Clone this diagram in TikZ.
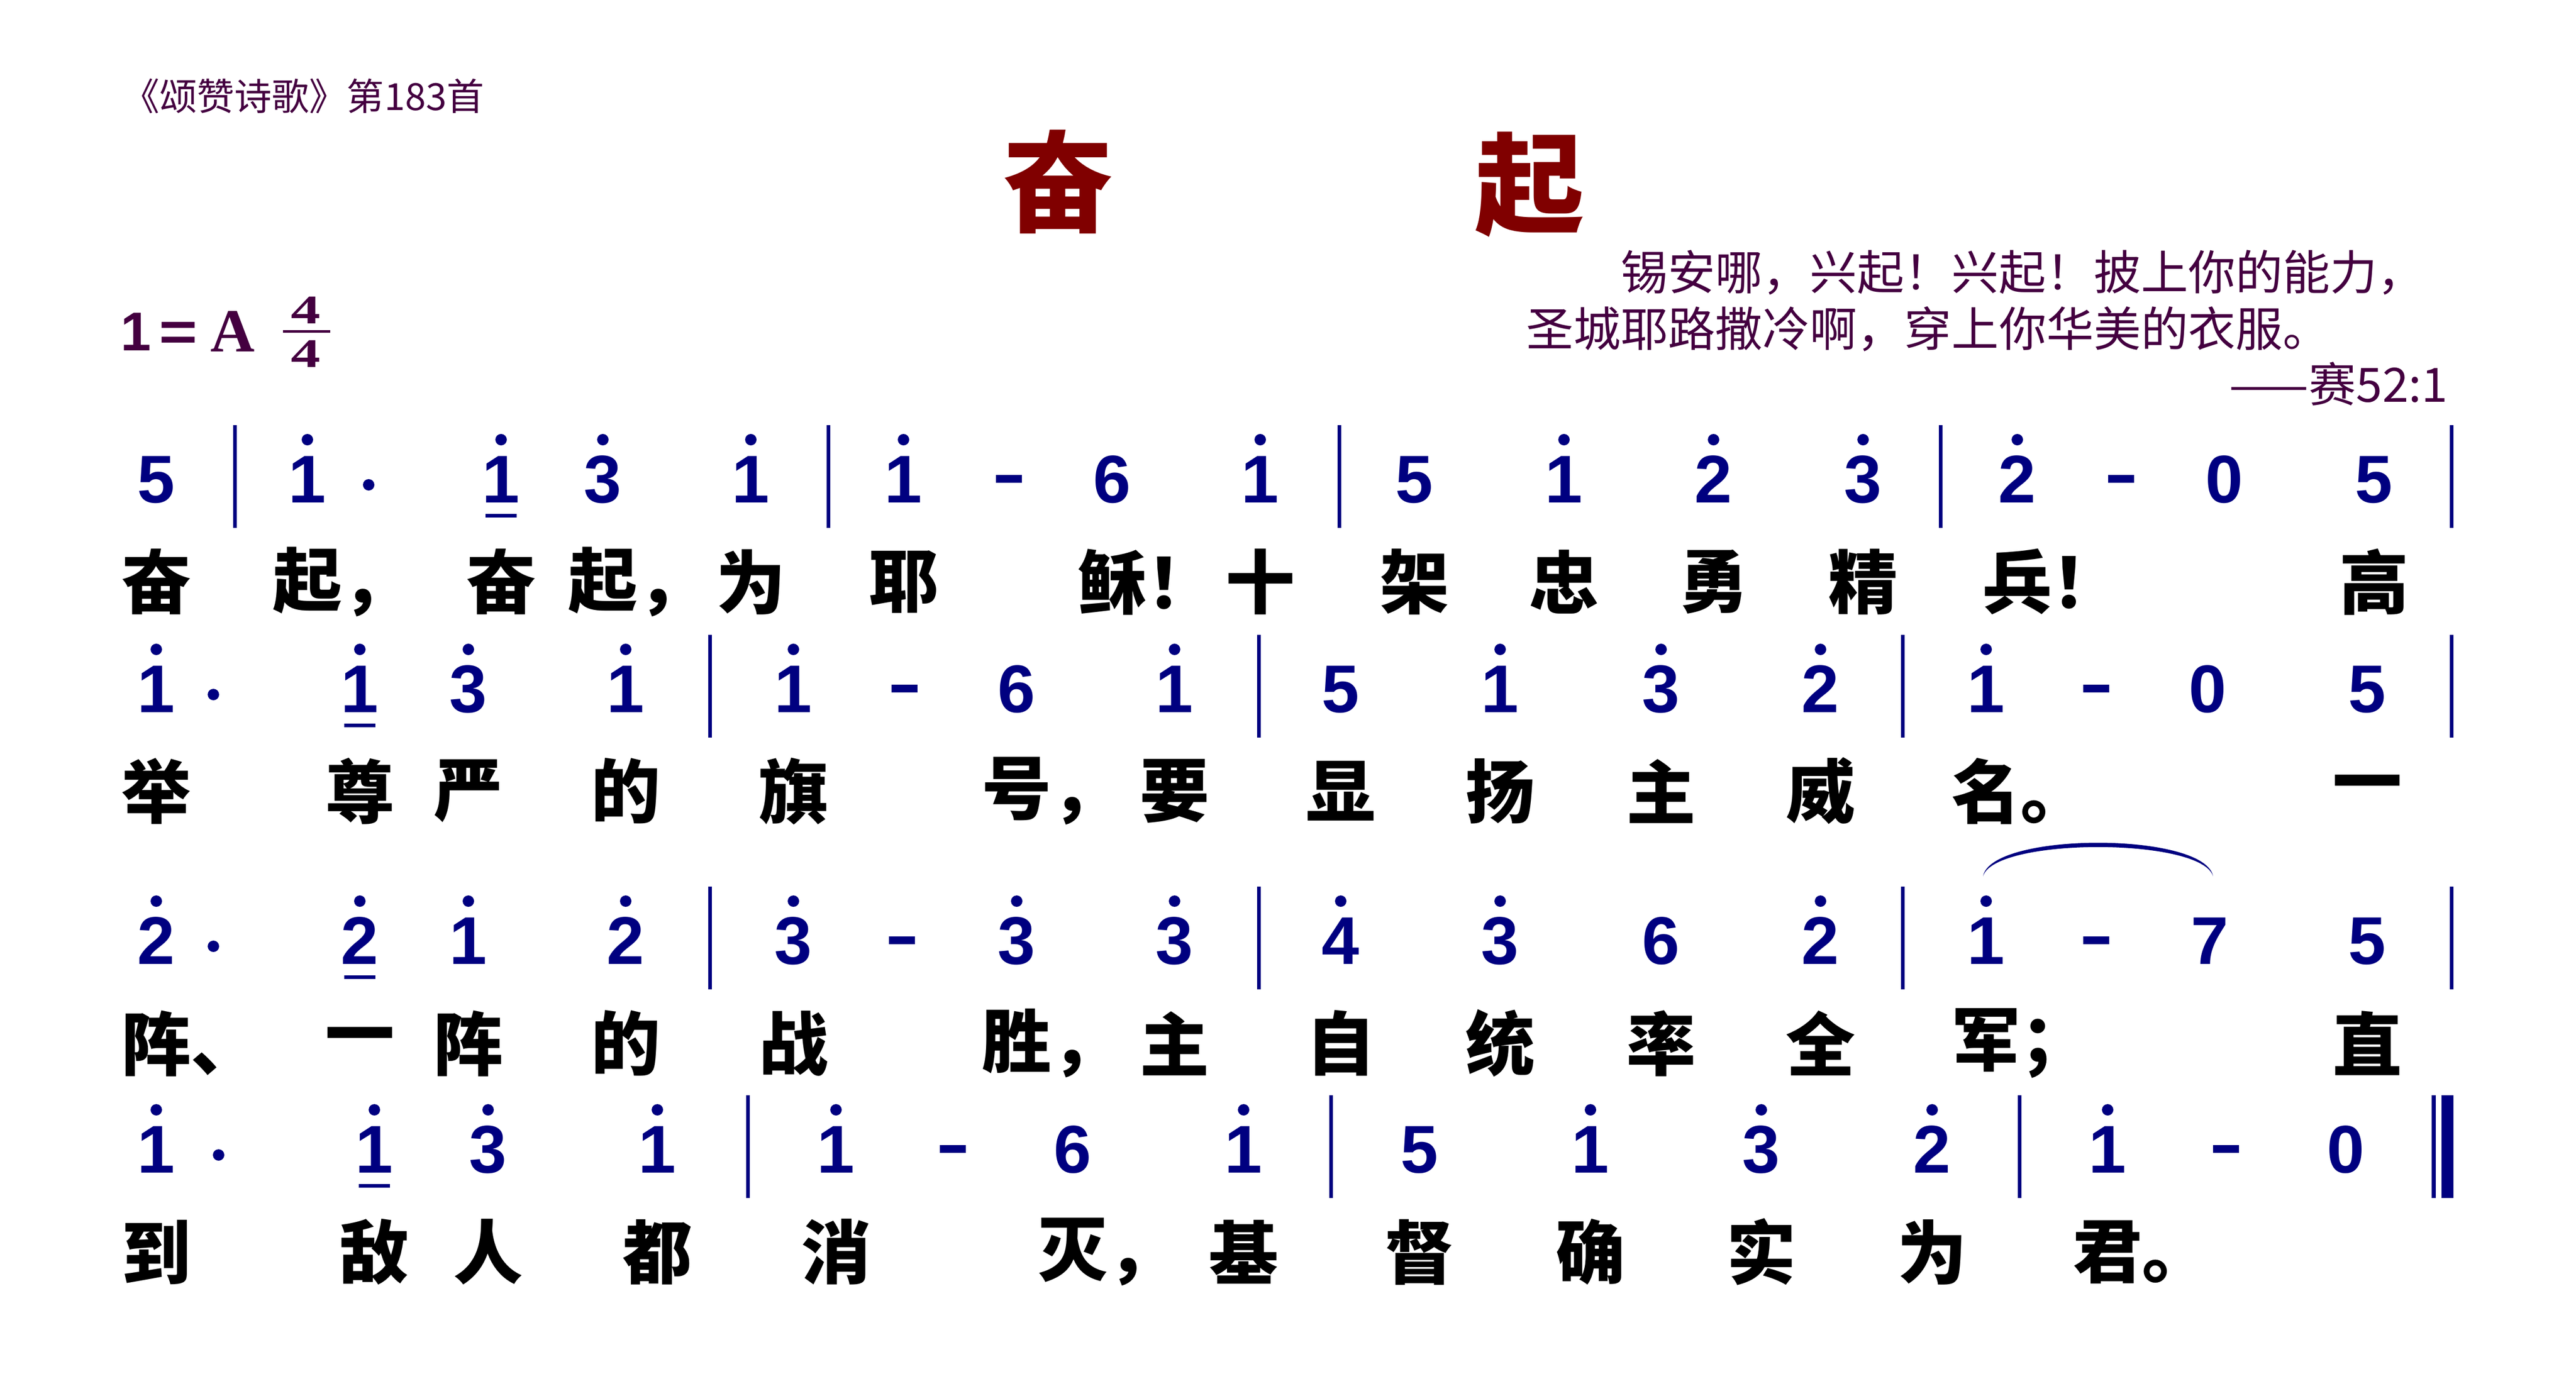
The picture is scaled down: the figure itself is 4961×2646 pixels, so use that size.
\documentclass[tikz,border=0pt]{standalone}
\usepackage{fontspec}
\usepackage{tikz}
\usetikzlibrary{calc}
\newfontfamily\cjk{Noto Sans CJK SC}
\newfontfamily\numfont{Liberation Sans}
\newfontfamily\serfont{Liberation Serif}
\definecolor{navy}{RGB}{0,0,128}
\definecolor{plum}{RGB}{68,0,64}
\definecolor{maroon}{RGB}{128,0,0}

\begin{document}
\begin{tikzpicture}[x=0.1mm,y=-0.1mm,
  note/.style={font=\numfont\bfseries\fontsize{37}{37}\selectfont,text=navy,anchor=base,inner sep=0pt},
  word/.style={font=\cjk\bfseries\fontsize{38}{38}\selectfont,anchor=center,inner sep=0pt},
  bar/.style={navy,line width=0.7mm},
  hi/.style={navy},
  holdmark/.style={navy}]

\useasboundingbox (0,0) rectangle (4961,2646);

% heading
\node [anchor=west,inner sep=0pt,text=plum,font=\cjk\fontsize{20.5}{20.5}\selectfont] (hdr) at (235,185) {《颂赞诗歌》第183首};
\node [inner sep=0pt,text=maroon,font=\cjk\bfseries\fontsize{60}{60}\selectfont] (ttlA) at (2038,350) {奋};
\node [inner sep=0pt,text=maroon,font=\cjk\bfseries\fontsize{60}{60}\selectfont] (ttlB) at (2946,355) {起};
\node [anchor=west,inner sep=0pt,text=plum,font=\cjk\fontsize{25.9}{25.9}\selectfont] (verseA) at (3121,525) {锡安哪，兴起！兴起！披上你的能力，};
\node [anchor=west,inner sep=0pt,text=plum,font=\cjk\fontsize{25.9}{25.9}\selectfont] (verseB) at (2939,634) {圣城耶路撒冷啊，穿上你华美的衣服。};
\node [anchor=east,inner sep=0pt,text=plum,font=\cjk\fontsize{25.9}{25.9}\selectfont] (cite) at (4715,739) {——赛52:1};

% key and time
\node [anchor=base,inner sep=0pt,text=plum,font=\numfont\bfseries\fontsize{30}{30}\selectfont] (key1) at (262,675) {1};
\node [anchor=base,inner sep=0pt,text=plum,font=\numfont\bfseries\fontsize{30}{30}\selectfont] (keyeq) at (343,675) {\scalebox{1.2}[1]{=}};
\node [anchor=base,inner sep=0pt,text=plum,font=\serfont\bfseries\fontsize{33.6}{33.6}\selectfont] (keyA) at (448,677) {A};
\node [anchor=base,inner sep=0pt,text=plum,font=\serfont\bfseries\fontsize{22.3}{22.3}\selectfont] (tsnum) at (589,623) {\scalebox{1.45}[1]{4}};
\node [anchor=base,inner sep=0pt,text=plum,font=\serfont\bfseries\fontsize{22.3}{22.3}\selectfont] (tsden) at (589,707) {\scalebox{1.45}[1]{4}};
\draw [plum,line width=0.5mm] (545,638.5) -- (636,638.5);

% row 1
\foreach \x/\d/\h/\u [count=\i] in {301/5/0/0,592/1/1/0,965/1/1/1,1161/3/1/0,1446/1/1/0,1740/1/1/0,2142/6/0/0,2427/1/1/0,2724/5/0/0,3012/1/1/0,3300/2/1/0,3588/3/1/0,3885/2/1/0,4284/0/0/0,4572/5/0/0}{
  \node [note] (r1n\i) at (\x,968) {\d};
  \ifnum\h=1 \fill [hi] ($(r1n\i.base)+(0,-121)$) circle [radius=1.1mm]; \fi
  \ifnum\u=1 \fill [hi] ($(r1n\i.base)+(-30,22)$) rectangle ($(r1n\i.base)+(30,29)$); \fi
}
\fill [hi] (710,934) circle [radius=1.1mm];
\foreach \x in {1943,4085} \fill [holdmark] (\x-25,914.5) rectangle (\x+25,929.5);
\foreach \x in {452,1595,2579,3737,4721} \draw [bar] (\x,819) -- (\x,1017);
\foreach \x/\w [count=\i] in {301/奋,592/{起\rlap{，}},965/奋,1161/{起\rlap{，}},1446/为,1740/耶,2142/{稣\rlap{！}},2427/十,2724/架,3012/忠,3300/勇,3588/精,3885/{兵\rlap{！}},4572/高}
  \node [word] (r1w\i) at (\x,1121) {\w};

% row 2
\foreach \x/\d/\h/\u [count=\i] in {301/1/1/0,693/1/1/1,902/3/1/0,1205/1/1/0,1528/1/1/0,1958/6/0/0,2262/1/1/0,2582/5/0/0,2889/1/1/0,3199/3/1/0,3506/2/1/0,3825/1/1/0,4252/0/0/0,4559/5/0/0}{
  \node [note] (r2n\i) at (\x,1372) {\d};
  \ifnum\h=1 \fill [hi] ($(r2n\i.base)+(0,-121)$) circle [radius=1.1mm]; \fi
  \ifnum\u=1 \fill [hi] ($(r2n\i.base)+(-30,22)$) rectangle ($(r2n\i.base)+(30,29)$); \fi
}
\fill [hi] (411,1338) circle [radius=1.1mm];
\foreach \x in {1742,4037} \fill [holdmark] (\x-25,1318.5) rectangle (\x+25,1333.5);
\foreach \x in {1367,2424,3664,4721} \draw [bar] (\x,1223) -- (\x,1421);
\foreach \x/\w [count=\i] in {301/举,693/尊,902/严,1205/的,1528/旗,1958/{号\rlap{，}},2262/要,2582/显,2889/扬,3199/主,3506/威,3825/{名\rlap{。}},4559/一}
  \node [word] (r2w\i) at (\x,1524) {\w};

% row 3
\foreach \x/\d/\h/\u [count=\i] in {301/2/1/0,693/2/1/1,902/1/1/0,1205/2/1/0,1528/3/1/0,1958/3/1/0,2262/3/1/0,2582/4/1/0,2889/3/1/0,3199/6/0/0,3506/2/1/0,3825/1/1/0,4256/7/0/0,4559/5/0/0}{
  \node [note] (r3n\i) at (\x,1857) {\d};
  \ifnum\h=1 \fill [hi] ($(r3n\i.base)+(0,-121)$) circle [radius=1.1mm]; \fi
  \ifnum\u=1 \fill [hi] ($(r3n\i.base)+(-30,22)$) rectangle ($(r3n\i.base)+(30,29)$); \fi
}
\fill [hi] (411,1823) circle [radius=1.1mm];
\foreach \x in {1737,4037} \fill [holdmark] (\x-25,1803.5) rectangle (\x+25,1818.5);
\foreach \x in {1367,2424,3664,4721} \draw [bar] (\x,1708) -- (\x,1906);
\foreach \x/\w [count=\i] in {301/{阵\rlap{、}},693/一,902/阵,1205/的,1528/战,1958/{胜\rlap{，}},2262/主,2582/自,2889/统,3199/率,3506/全,3825/{军\rlap{；}},4559/直}
  \node [word] (r3w\i) at (\x,2010) {\w};

% slur
\coordinate (slurA) at ($(r3n12.base)+(-6,-169)$);
\coordinate (slurB) at ($(r3n13.base)+(6,-169)$);
\fill [navy] (slurA) .. controls +(16,-86) and +(-16,-86) .. (slurB)
  .. controls +(-22,-75) and +(22,-75) .. (slurA);

% row 4
\foreach \x/\d/\h/\u [count=\i] in {301/1/1/0,721/1/1/1,940/3/1/0,1266/1/1/0,1610/1/1/0,2066/6/0/0,2395/1/1/0,2734/5/0/0,3063/1/1/0,3392/3/1/0,3721/2/1/0,4059/1/1/0,4518/0/0/0}{
  \node [note] (r4n\i) at (\x,2259) {\d};
  \ifnum\h=1 \fill [hi] ($(r4n\i.base)+(0,-121)$) circle [radius=1.1mm]; \fi
  \ifnum\u=1 \fill [hi] ($(r4n\i.base)+(-30,22)$) rectangle ($(r4n\i.base)+(30,29)$); \fi
}
\fill [hi] (421,2225) circle [radius=1.1mm];
\foreach \x in {1835,4287} \fill [holdmark] (\x-25,2205.5) rectangle (\x+25,2220.5);
\foreach \x in {1440,2563,3889} \draw [bar] (\x,2110) -- (\x,2308);
\fill [navy] (4683,2110) rectangle (4691,2308);
\fill [navy] (4702,2110) rectangle (4725,2308);
\foreach \x/\w [count=\i] in {301/到,721/敌,940/人,1266/都,1610/消,2066/{灭\rlap{，}},2395/基,2734/督,3063/确,3392/实,3721/为,4059/{君\rlap{。}}}
  \node [word] (r4w\i) at (\x,2412) {\w};

\end{tikzpicture}
\end{document}
